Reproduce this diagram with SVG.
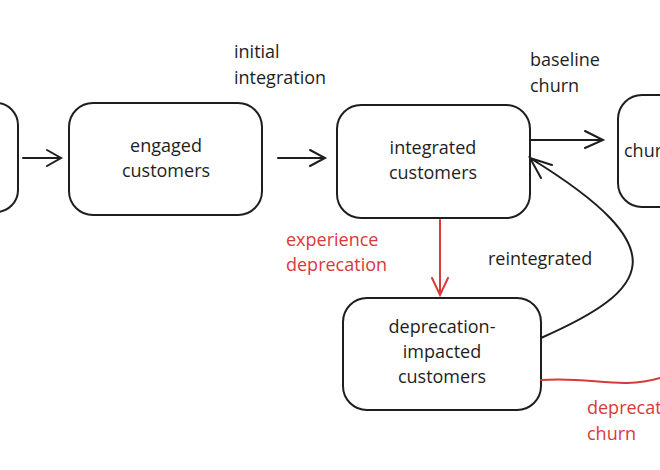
<svg xmlns="http://www.w3.org/2000/svg" width="660" height="470" viewBox="0 0 660 470">
<style>
.b{fill:none;stroke:#1e1e1e;stroke-width:2}
.t{font-family:"Open Sans","DejaVu Sans",sans-serif;font-size:18px;fill:#1e1e1e}
.r{fill:#d63a3a}
.c{fill:none;stroke:#1e1e1e;stroke-width:2;stroke-linecap:round}
.cr{fill:none;stroke:#d63a3a;stroke-width:2;stroke-linecap:round}
</style>
<rect width="660" height="470" fill="#fff"/>
<g id="node-left"><rect class="b" x="-60" y="103" width="78" height="109" rx="22"/></g>
<g id="node-engaged"><rect class="b" x="69" y="103" width="193" height="112" rx="24"/>
<text class="t" x="166" y="152" text-anchor="middle">engaged</text><text class="t" x="166" y="177" text-anchor="middle">customers</text></g>
<g id="node-integrated"><rect class="b" x="337" y="105" width="193" height="113" rx="24"/>
<text class="t" x="433" y="154" text-anchor="middle">integrated</text><text class="t" x="433" y="179" text-anchor="middle">customers</text></g>
<g id="node-churned"><rect class="b" x="618" y="95" width="100" height="112" rx="24"/>
<text class="t" x="624" y="157">churned</text></g>
<g id="node-deprecation"><rect class="b" x="343" y="298" width="198" height="112" rx="24"/>
<text class="t" x="442" y="333" text-anchor="middle">deprecation-</text><text class="t" x="442" y="358" text-anchor="middle">impacted</text><text class="t" x="442" y="383" text-anchor="middle">customers</text></g>
<g id="connectors">
<path class="c" d="M23 158H60M47 150L61 158L47 166"/>
<path class="c" d="M278 158H324M310 150L325 158L310 166"/>
<path class="c" d="M531 140H602M585 131L603 140L585 148"/>
<path class="cr" d="M440 220V294M432 278L440 295L448 278"/>
<path class="c" d="M541 338C650 290 680 250 530 158M552 165L530 158L541 178"/>
<path class="cr" d="M541 380C590 376 620 390 660 378"/>
</g>
<g id="labels">
<text class="t" x="234" y="58">initial</text><text class="t" x="234" y="84">integration</text>
<text class="t" x="530" y="66">baseline</text><text class="t" x="530" y="92">churn</text>
<text class="t r" x="286" y="246">experience</text><text class="t r" x="286" y="271">deprecation</text>
<text class="t" x="488" y="265">reintegrated</text>
<text class="t r" x="587" y="414">deprecation</text><text class="t r" x="587" y="440">churn</text>
</g>
</svg>
